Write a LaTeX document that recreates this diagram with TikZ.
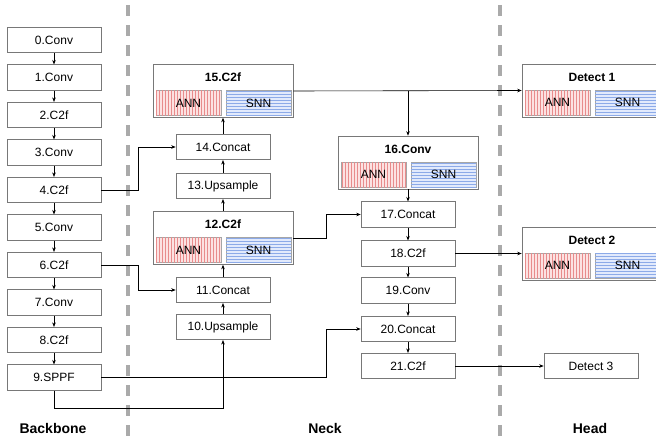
\documentclass[tikz,border=0pt]{standalone}
\usepackage{fontspec}
\setmainfont{Liberation Sans}
\usetikzlibrary{patterns,arrows.meta}
\definecolor{annbg}{RGB}{252,226,226}
\definecolor{annline}{RGB}{232,140,140}
\definecolor{snnbg}{RGB}{226,234,252}
\definecolor{snnline}{RGB}{140,170,232}
\definecolor{boxline}{RGB}{120,120,120}
\definecolor{sepline}{RGB}{170,170,170}
\tikzset{
  blk/.style={draw=boxline, line width=0.6pt, fill=white, minimum width=94pt, minimum height=25.5pt, inner sep=0pt, font=\fontsize{12}{14}\selectfont},
  outer/.style={draw=boxline, line width=0.6pt, fill=white, minimum width=140pt, minimum height=53pt, inner sep=0pt},
  ttl/.style={font=\fontsize{12}{14}\selectfont\bfseries, inner sep=0pt},
  annbox/.style={draw=black!35, line width=0.5pt, fill=annbg, postaction={pattern=vertical lines, pattern color=annline}, minimum width=65pt, minimum height=25pt, inner sep=0pt, font=\fontsize{12}{14}\selectfont},
  snnbox/.style={draw=black!35, line width=0.5pt, fill=snnbg, postaction={pattern=horizontal lines, pattern color=snnline}, minimum width=65pt, minimum height=25pt, inner sep=0pt, font=\fontsize{12}{14}\selectfont},
  arr/.style={draw=black, line width=0.6pt, -{Stealth[length=4.5pt,width=3.5pt]}},
  sep/.style={draw=sepline, line width=4pt, dash pattern=on 11pt off 9pt},
  sect/.style={font=\fontsize{14}{16}\selectfont\bfseries}
}
\newcommand\cbox[4]{%
  \node[outer] (#1) at (#2,#3) {};
  \node[ttl] (#1t) at ([yshift=-13.5pt]#1.north) {#4};
  \node[annbox, anchor=south west] (#1a) at ([xshift=3pt,yshift=2pt]#1.south west) {ANN};
  \node[snnbox, anchor=south east] (#1s) at ([xshift=-2pt,yshift=2pt]#1.south east) {SNN};
}
\begin{document}
\begin{tikzpicture}[x=1pt,y=-1pt]
\useasboundingbox (0,0) rectangle (656,443);
% separators
\coordinate (s1a) at (128,5); \coordinate (s1b) at (128,443);
\coordinate (s2a) at (500,5); \coordinate (s2b) at (500,443);
\draw[sep] (s1a) -- (s1b);
\draw[sep] (s2a) -- (s2b);
% backbone
\node[blk] (b0) at (54,40) {0.Conv};
\node[blk] (b1) at (54,77.5) {1.Conv};
\node[blk] (b2) at (54,115) {2.C2f};
\node[blk] (b3) at (54,152.5) {3.Conv};
\node[blk] (b4) at (54,190) {4.C2f};
\node[blk] (b5) at (54,227.5) {5.Conv};
\node[blk] (b6) at (54,265) {6.C2f};
\node[blk] (b7) at (54,302.5) {7.Conv};
\node[blk] (b8) at (54,340) {8.C2f};
\node[blk] (b9) at (54,377.5) {9.SPPF};
\foreach \a/\b in {b0/b1,b1/b2,b2/b3,b3/b4,b4/b5,b5/b6,b6/b7,b7/b8,b8/b9}
  \draw[arr] (\a.south) -- (\b.north);
% neck left column
\cbox{c15}{223}{91}{15.C2f}
\node[blk] (c14) at (223,147) {14.Concat};
\node[blk] (c13) at (223,186) {13.Upsample};
\cbox{c12}{223}{238}{12.C2f}
\node[blk] (c11) at (223,290) {11.Concat};
\node[blk] (c10) at (223,327) {10.Upsample};
% neck right column
\cbox{c16}{408}{162.5}{16.Conv}
\node[blk] (c17) at (408,214.5) {17.Concat};
\node[blk] (c18) at (408,253.5) {18.C2f};
\node[blk] (c19) at (408,290.5) {19.Conv};
\node[blk] (c20) at (408,329) {20.Concat};
\node[blk] (c21) at (408,366) {21.C2f};
% head
\cbox{d1}{592}{90.5}{Detect 1}
\cbox{d2}{592}{253.5}{Detect 2}
\node[blk] (d3) at (591,366) {Detect 3};
% vertical flows
\foreach \a/\b in {c10/c11,c11/c12,c12/c13,c13/c14,c14/c15}
  \draw[arr] (\a.north) -- (\b.south);
\foreach \a/\b in {c16/c17,c17/c18,c18/c19,c19/c20,c20/c21}
  \draw[arr] (\a.south) -- (\b.north);
% routing coordinates
\coordinate (kx1) at (138,0);
\coordinate (kx2) at (326,0);
\coordinate (ky1) at (0,408);
% connectors
\draw[arr] (b4.east) -- (b4.east -| kx1) |- (c14.west);
\draw[arr] (b6.east) -- (b6.east -| kx1) |- (c11.west);
\draw[arr] (b9.east) -- (b9.east -| kx2) |- (c20.west);
\draw[arr] (b9.south) -- (b9.south |- ky1) -| (c10.south);
\draw[arr] (c12.east) -- (c12.east -| kx2) |- (c17.west);
\draw[arr] (c15.east) -- (d1.west);
\draw[arr] (c15.east -| c16.north) -- (c16.north);
\draw[arr] (c18.east) -- (d2.west);
\draw[arr] (c21.east) -- (d3.west);
% section labels
\node[sect] (lb) at (53,428) {Backbone};
\node[sect] (ln) at (325,428) {Neck};
\node[sect] (lh) at (590,428) {Head};
\end{tikzpicture}
\end{document}
